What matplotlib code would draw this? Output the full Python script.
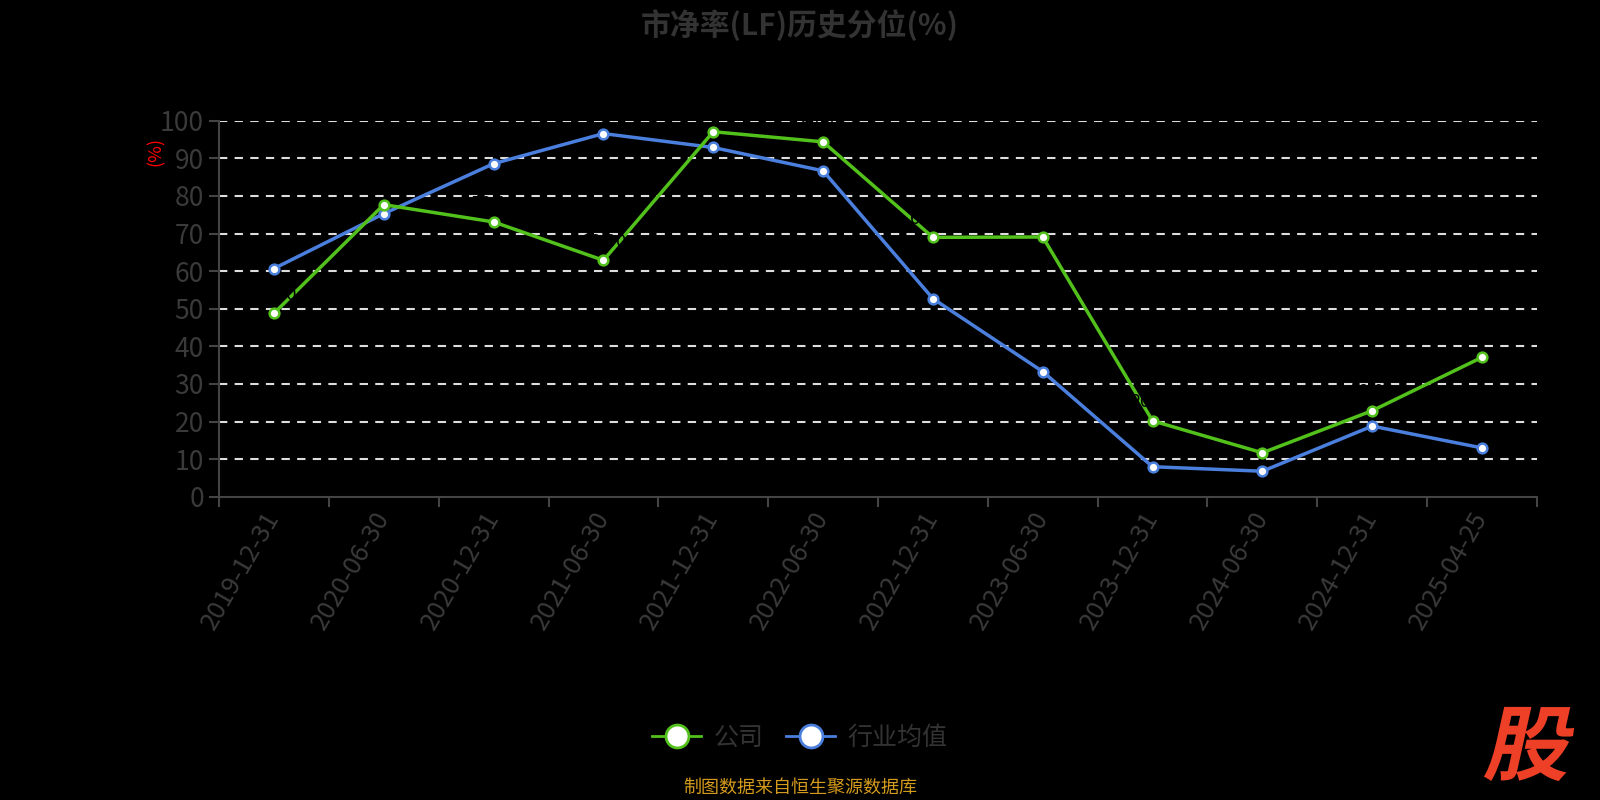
import matplotlib as mpl
mpl.use('Agg')
import matplotlib.pyplot as plt
import numpy as np
from matplotlib.textpath import TextPath
from matplotlib.patches import PathPatch
from matplotlib.font_manager import FontProperties
from matplotlib.transforms import Affine2D

plt.rcParams['font.family'] = ['Noto Sans CJK SC', 'DejaVu Sans']

dates = ['2019-12-31', '2020-06-30', '2020-12-31', '2021-06-30', '2021-12-31', '2022-06-30',
         '2022-12-31', '2023-06-30', '2023-12-31', '2024-06-30', '2024-12-31', '2025-04-25']
company = [48.8, 77.7, 73.1, 62.9, 97.1, 94.4, 69.0, 69.1, 20.2, 11.7, 22.9, 37.1]
industry = [60.7, 75.3, 88.6, 96.6, 92.9, 86.7, 52.7, 33.3, 8.0, 6.8, 18.8, 13.0]

green = '#52c11c'
blue = '#4a7fdd'
grey = '#3a3a3a'

fig = plt.figure(figsize=(16, 8), dpi=100, facecolor='black')
ax = fig.add_axes([0.1369, 0.379, 0.8237, 0.470], facecolor='black')

x = np.arange(len(dates))
ax.plot(x, company, color=green, lw=2.5, marker='o', ms=7, mfc='white', mec=green, mew=1.8,
        zorder=4, label='公司')
ax.plot(x, industry, color=blue, lw=2.5, marker='o', ms=7, mfc='white', mec=blue, mew=1.8,
        zorder=3, label='行业均值')

# data labels (black on black, as in the original)
for xi, v in zip(x, company):
    ax.text(xi, v + 2.5, '%.2f' % v, color='black', fontsize=13, ha='center', va='bottom', zorder=5)

ax.set_xlim(-0.5, len(dates) - 0.5)
ax.set_ylim(0, 100)
ax.set_yticks(range(0, 101, 10))
ax.set_xticks(x)
ax.set_xticklabels(dates, rotation=60, ha='right', va='center', rotation_mode='anchor')
ax.set_xticks(np.arange(-0.5, len(dates), 1), minor=True)
ax.tick_params(axis='x', which='major', length=0, pad=12, labelsize=18.5, labelcolor=grey)
ax.tick_params(axis='x', which='minor', length=7, width=1.5, color='#444444')
ax.tick_params(axis='y', length=7, width=1.5, color='#444444', labelsize=19, labelcolor=grey, pad=4)

for y in range(10, 101, 10):
    ax.axhline(y, color='#dddddd', lw=1.5, ls=(0, (4, 3.5)), zorder=1)

for s in ['top', 'right']:
    ax.spines[s].set_visible(False)
for s in ['left', 'bottom']:
    ax.spines[s].set_color('#444444')
    ax.spines[s].set_linewidth(1.5)

fig.text(0.0975, 0.81, '(%)', color='red', fontsize=13, rotation=90, ha='center', va='center')
fig.text(0.5, 0.969, '市净率(LF)历史分位(%)', color='#333333', fontsize=21.5, fontweight='bold',
         ha='center', va='center')

h1, = ax.plot([], [], color=green, lw=2, marker='o', ms=16.5, mfc='white', mec=green, mew=2)
h2, = ax.plot([], [], color=blue, lw=2, marker='o', ms=16.5, mfc='white', mec=blue, mew=2)
fig.legend([h1, h2], ['公司', '行业均值'], loc='center', bbox_to_anchor=(0.5, 0.078), ncol=2,
           frameon=False, fontsize=18, labelcolor='#333333', handlelength=1.96, columnspacing=0.9,
           handletextpad=0.5)

fig.text(0.5, 0.015, '制图数据来自恒生聚源数据库', color='#d49a1c', fontsize=13, ha='center', va='center')

# slanted watermark
tp = TextPath((0, 0), '股', size=82, prop=FontProperties(family='Noto Sans CJK SC', weight='heavy'))
bb = tp.get_extents()
tr = (Affine2D().translate(-(bb.x0 + bb.x1) / 2, -(bb.y0 + bb.y1) / 2)
      .skew_deg(12, 0).scale(1.05, 1.0).translate(1532, 56))
fig.add_artist(PathPatch(tp, transform=tr, facecolor='#ee4027', edgecolor='none'))

plt.savefig('out.png', dpi=100, facecolor='black')
